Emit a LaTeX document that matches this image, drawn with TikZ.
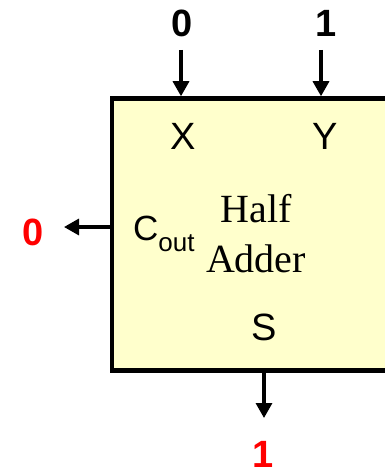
\documentclass[tikz,border=0pt]{standalone}
\usepackage{fontspec}
\setmainfont{Liberation Sans}
\newfontfamily\timesf{Liberation Serif}
\usetikzlibrary{positioning,arrows.meta}
\definecolor{hafill}{HTML}{FFFFCC}
\definecolor{hared}{HTML}{FF0000}

\begin{document}
\begin{tikzpicture}[x=1pt,y=-1pt]
  \tikzstyle{pin}=[inner sep=0,font=\fontsize{38}{40}\selectfont]
  \tikzstyle{val}=[inner sep=0,font=\fontsize{38}{40}\selectfont\bfseries]
  \tikzstyle{wire}=[line width=3.3pt,-{Triangle[length=15pt,width=16pt]}]
  \useasboundingbox (0,0) rectangle (385,468);
  \clip (0,0) rectangle (385,468);
  \node[draw,line width=4.5pt,fill=hafill,minimum width=310pt,minimum height=272pt,inner sep=0] (ha) at (267,234.5) {};
  \node[pin] (x) at (183,136) {X};
  \node[pin] (y) at (325,136) {Y};
  \node[pin] (s) at (264,327) {S};
  \node[inner sep=0,anchor=base west] (cout) at (133,240) {\fontsize{35}{40}\selectfont C\raisebox{-11pt}{\fontsize{26}{28}\selectfont out}};
  \node[inner sep=0,align=center,font=\timesf\fontsize{40}{50}\selectfont] (name) at (256,234) {Half\\Adder};
  \node[val] (x0) at (182,23.5) {0};
  \node[val] (y1) at (326,23.5) {1};
  \node[val,text=hared] (c0) at (33,232) {0};
  \node[val,text=hared] (s1) at (263.5,454.5) {1};
  \coordinate (xin) at (181,50);
  \coordinate (yin) at (321,50);
  \coordinate (cend) at (64,227);
  \coordinate (send) at (264,418);
  \draw[wire] (xin) -- (xin |- ha.north);
  \draw[wire] (yin) -- (yin |- ha.north);
  \draw[wire] (ha.west |- cend) -- (cend);
  \draw[wire] (ha.south -| send) -- (send);
\end{tikzpicture}
\end{document}
